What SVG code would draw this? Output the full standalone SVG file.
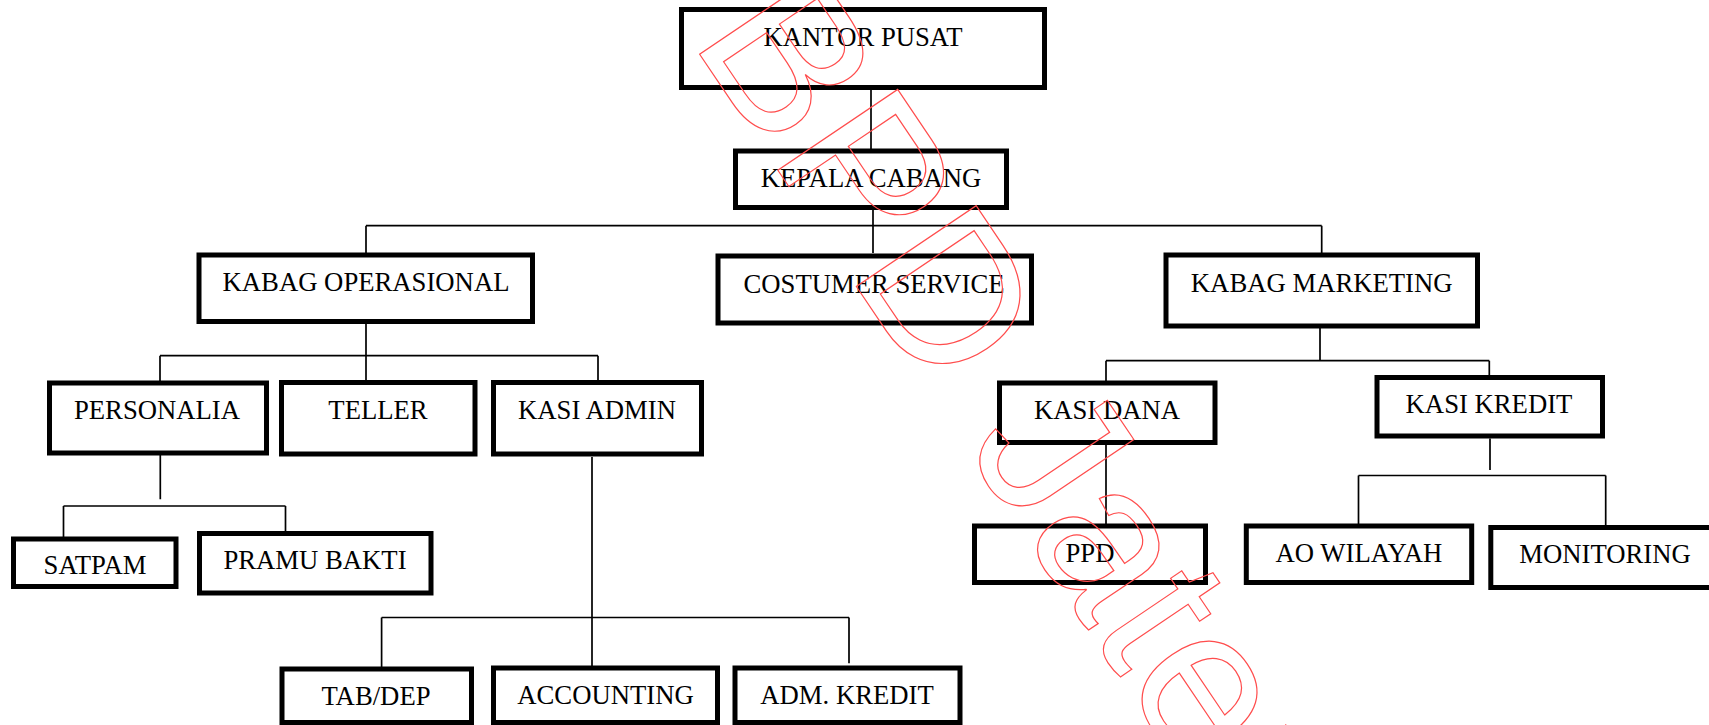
<svg xmlns="http://www.w3.org/2000/svg" width="1709" height="725" viewBox="0 0 1709 725">
<style>
.box{fill:#fff;stroke:#000;stroke-width:5}
.lbl{font-family:"Liberation Serif","Times New Roman",serif;font-size:26.7px;fill:#000;text-anchor:middle}
.con{stroke:#000;stroke-width:1.7;fill:none}
.wm{font-family:"Liberation Sans",Arial,sans-serif;font-size:210px;fill:none;stroke:#ff4d4d;stroke-width:1.2}
</style>
<rect width="1709" height="725" fill="#fff"/>
<g id="connectors">
<path class="con" d="M871,90V149 M873,210V253 M366,225.7H1321.7 M366,225.7V253 M1321.7,225.7V253"/>
<path class="con" d="M366,324V381 M160,355.7H598 M160,355.7V381 M598,355.7V381"/>
<path class="con" d="M160.3,455V499.3 M63.5,506H285.5 M63.5,506V537 M285.5,506V531"/>
<path class="con" d="M592,457V667 M381.6,617.5H849 M381.6,617.5V667 M849,617.5V663.3"/>
<path class="con" d="M1320,322V360.7 M1106,360.7H1489.3 M1106,360.7V381 M1489.3,360.7V376 M1106,445V524"/>
<path class="con" d="M1490,438.5V470 M1358.5,475.5H1605.7 M1358.5,475.5V524 M1605.7,475.5V526"/>
</g>
<g id="kantor-pusat"><rect class="box" x="681.5" y="9.5" width="363" height="78"/><text class="lbl" x="863" y="46">KANTOR PUSAT</text></g>
<g id="kepala-cabang"><rect class="box" x="735.5" y="151" width="271" height="56.5"/><text class="lbl" x="871" y="187">KEPALA CABANG</text></g>
<g id="kabag-operasional"><rect class="box" x="199" y="255" width="333.5" height="66.5"/><text class="lbl" x="366" y="290.7">KABAG OPERASIONAL</text></g>
<g id="costumer-service"><rect class="box" x="718" y="256" width="313.5" height="67"/><text class="lbl" x="874" y="292.7">COSTUMER SERVICE</text></g>
<g id="kabag-marketing"><rect class="box" x="1166" y="255" width="311.5" height="71"/><text class="lbl" x="1321.7" y="291.7">KABAG MARKETING</text></g>
<g id="personalia"><rect class="box" x="49.5" y="383" width="217" height="70"/><text class="lbl" x="157" y="418.5">PERSONALIA</text></g>
<g id="teller"><rect class="box" x="281.5" y="382.5" width="193.5" height="71.5"/><text class="lbl" x="378" y="419">TELLER</text></g>
<g id="kasi-admin"><rect class="box" x="493.5" y="382.5" width="208" height="71.5"/><text class="lbl" x="597" y="419">KASI ADMIN</text></g>
<g id="kasi-dana"><rect class="box" x="999.5" y="383" width="215.5" height="59.5"/><text class="lbl" x="1107" y="419">KASI DANA</text></g>
<g id="kasi-kredit"><rect class="box" x="1377" y="377.5" width="225.5" height="58.5"/><text class="lbl" x="1489" y="413.3">KASI KREDIT</text></g>
<g id="satpam"><rect class="box" x="13.5" y="539" width="162.5" height="47.5"/><text class="lbl" x="95" y="574.3">SATPAM</text></g>
<g id="pramu-bakti"><rect class="box" x="199.5" y="533.5" width="231.5" height="59.5"/><text class="lbl" x="315" y="569.3">PRAMU BAKTI</text></g>
<g id="ppd"><rect class="box" x="974.5" y="526" width="231" height="56.5"/><text class="lbl" x="1090" y="561.7">PPD</text></g>
<g id="ao-wilayah"><rect class="box" x="1246.3" y="526" width="225.4" height="56.5"/><text class="lbl" x="1359" y="561.7">AO WILAYAH</text></g>
<g id="monitoring"><rect class="box" x="1490.8" y="527.5" width="230" height="60"/><text class="lbl" x="1605" y="563.3">MONITORING</text></g>
<g id="tab-dep"><rect class="box" x="282" y="669" width="189.5" height="53.5"/><text class="lbl" x="376" y="705">TAB/DEP</text></g>
<g id="accounting"><rect class="box" x="493.5" y="668" width="224" height="54.5"/><text class="lbl" x="605.5" y="704.3">ACCOUNTING</text></g>
<g id="adm-kredit"><rect class="box" x="735" y="668" width="225" height="54.5"/><text class="lbl" x="847" y="704.3">ADM. KREDIT</text></g>
<text class="wm" transform="translate(690,40) rotate(56)">BPD Jateng</text>
</svg>
